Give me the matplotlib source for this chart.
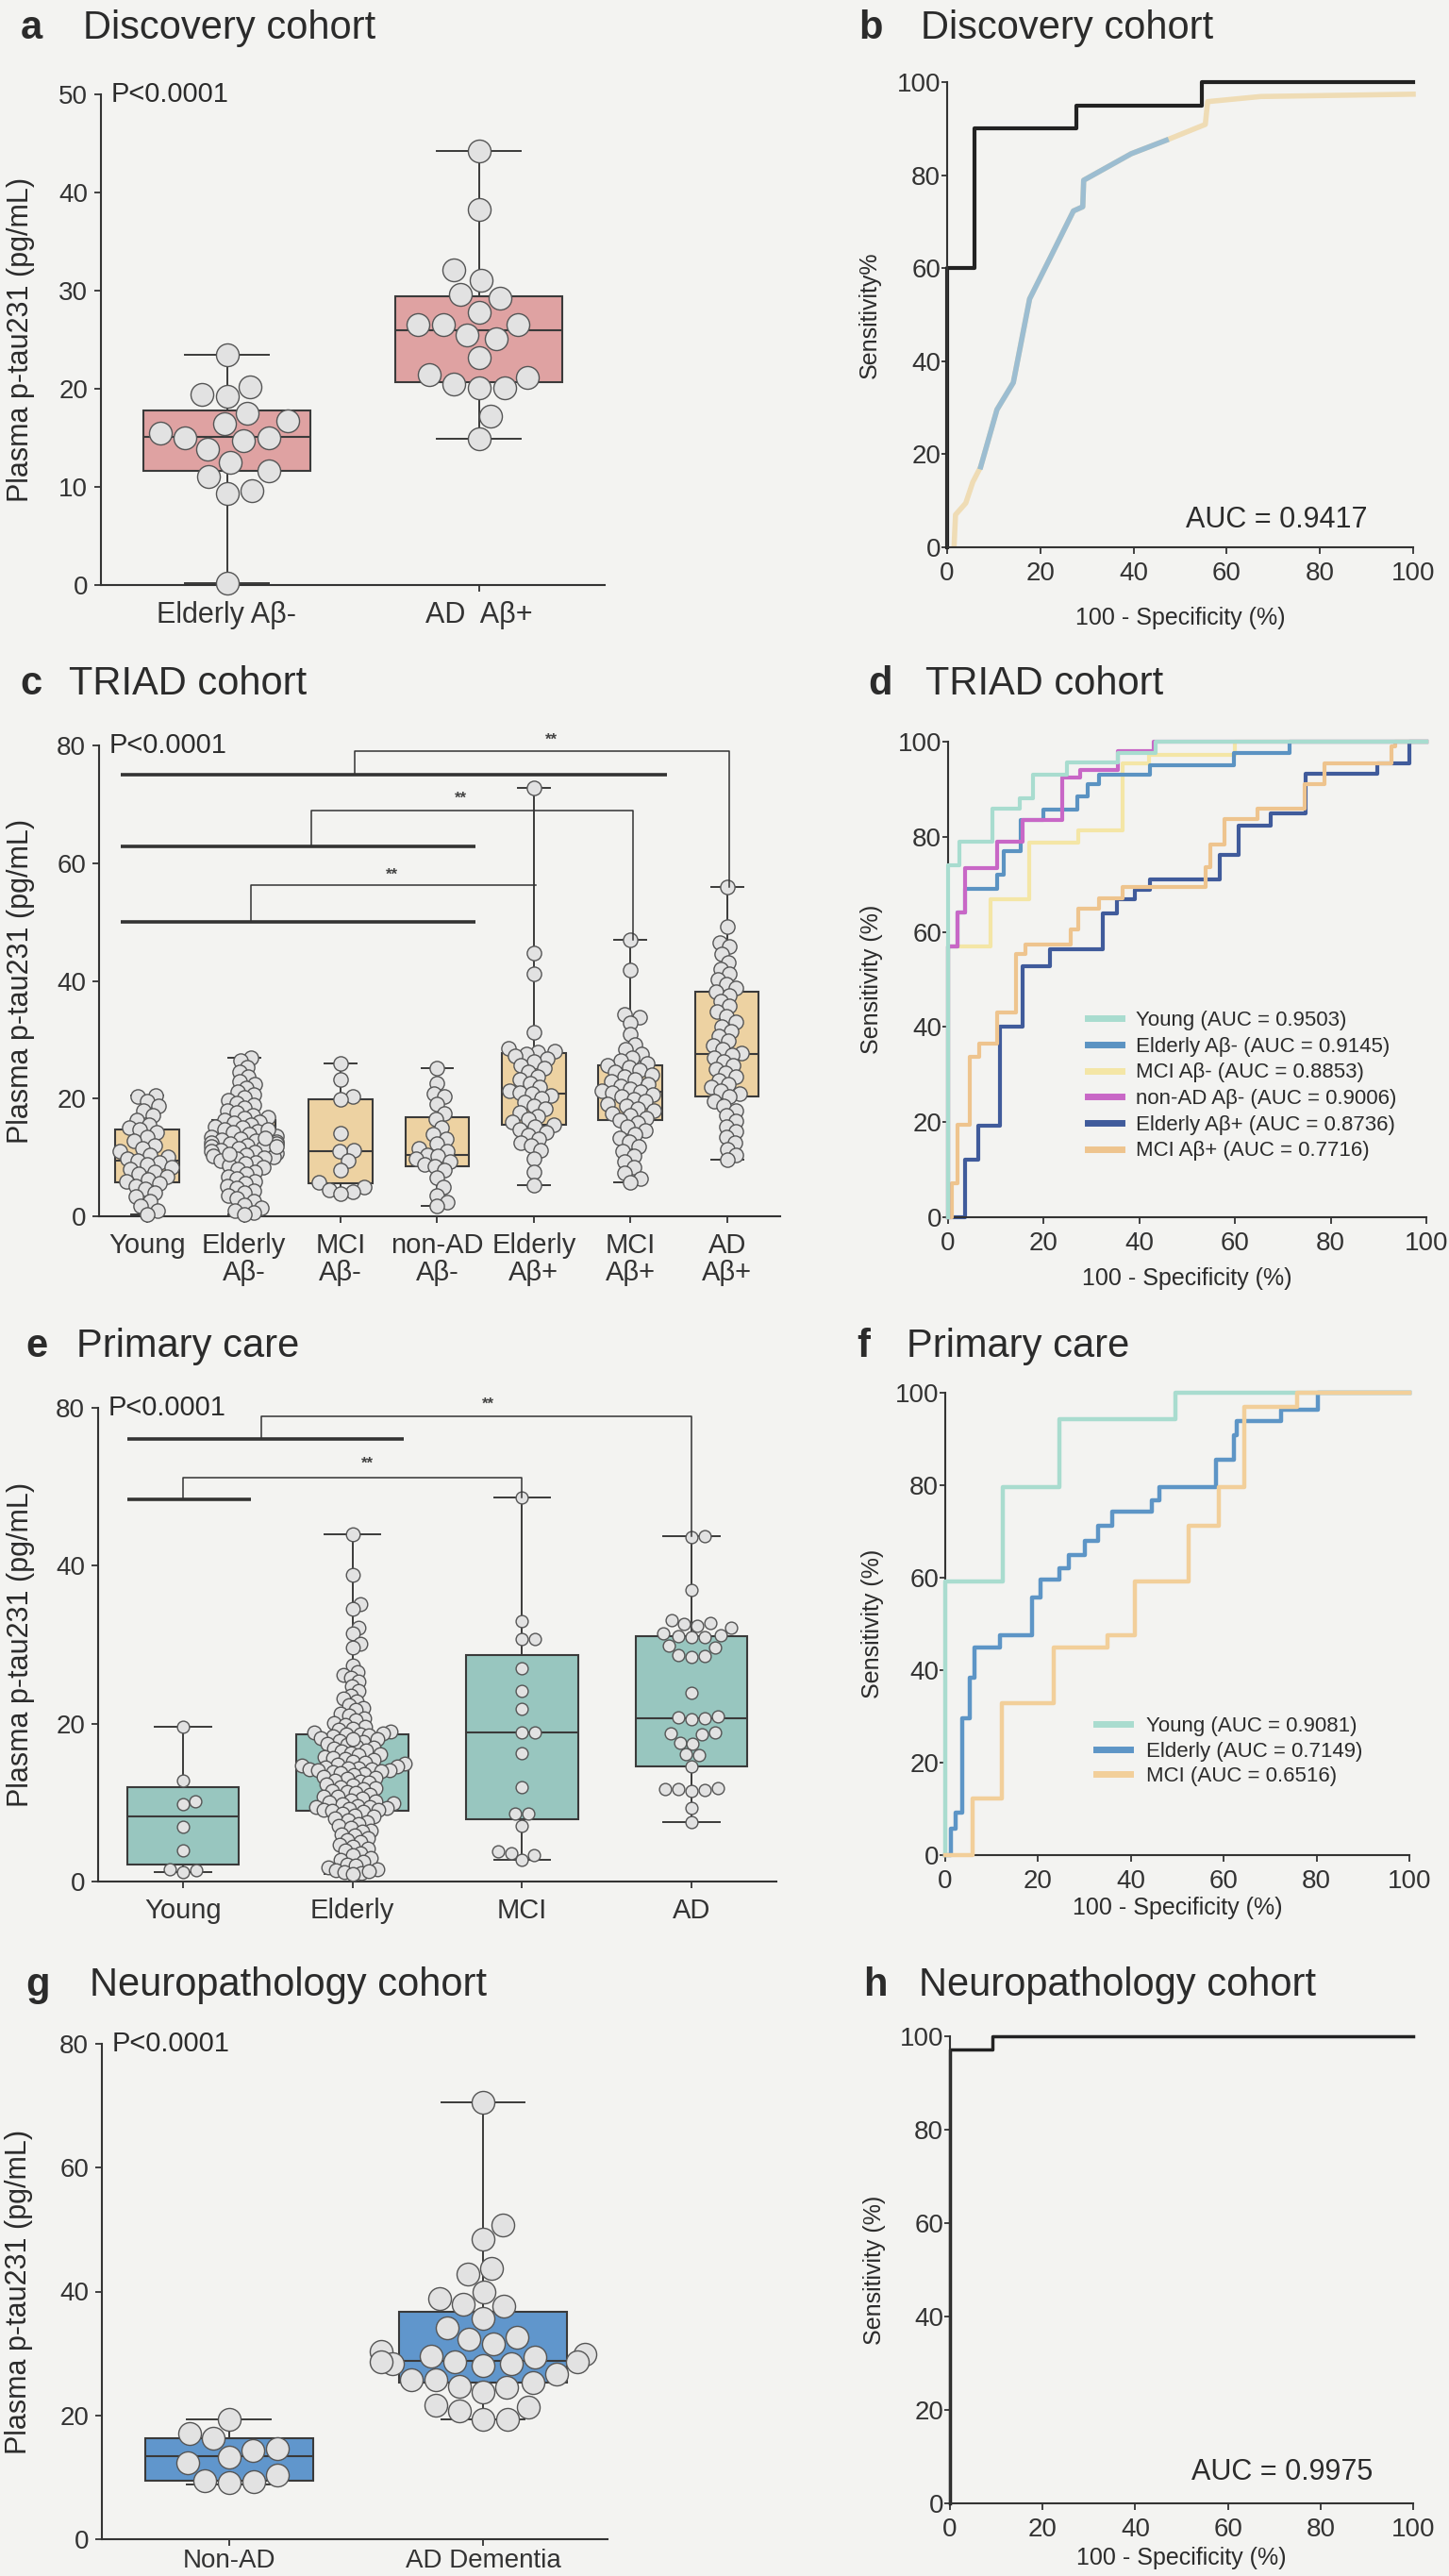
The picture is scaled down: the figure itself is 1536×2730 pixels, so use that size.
import numpy as np
import matplotlib
matplotlib.use("Agg")
import matplotlib.pyplot as plt

plt.rcParams['font.family'] = ['Liberation Sans', 'DejaVu Sans']

W, H = 1536, 2730
BG = '#f3f3f1'
TXT = '#2b2b2b'
EDGE = '#3a3a3a'
PT_FACE = '#e2e2e2'
PT_EDGE = '#555555'

# ---------------- data: panel a (Discovery cohort) ----------------
a_labels = ['Elderly Aβ-', 'AD  Aβ+']
a_elderly = [23.5, 20.2, 19.4, 19.2, 17.5, 16.7, 16.4, 15.5, 15.0, 14.7, 15.0,
             13.8, 12.5, 11.6, 11.1, 9.6, 9.3, 0.2]
a_ad = [44.2, 38.3, 32.1, 31.1, 29.6, 29.2, 27.8, 26.5, 26.5, 26.5, 25.1, 25.5,
        23.2, 21.4, 21.2, 20.1, 20.5, 20.1, 17.2, 14.9]
a_lo = [0.2, 14.9]
a_q1 = [11.6, 20.7]
a_med = [15.1, 26.0]
a_q3 = [17.8, 29.4]
a_hi = [23.5, 44.2]

# ---------------- data: panel b (Discovery ROC) ----------------
b_step_x = [0, 0, 5.8, 27.8, 54.6, 100]
b_step_y = [0, 60, 90, 95, 100, 100]
b_curve_x = [1.5, 1.8, 4.0, 5.5, 7.2, 10.7, 14.2, 17.7, 22, 27.1, 29.1, 29.3,
             39.5, 47, 55.4, 55.9, 67.3, 100]
b_curve_y = [0.5, 7, 9.5, 14, 17.3, 29.6, 35.4, 53.4, 62, 72.3, 73.2, 78.9,
             84.6, 87.5, 90.9, 95.8, 96.9, 97.4]
b_auc = 'AUC = 0.9417'

# ---------------- data: panel c (TRIAD cohort) ----------------
c_labels = ['Young', 'Elderly\nAβ-', 'MCI\nAβ-', 'non-AD\nAβ-', 'Elderly\nAβ+',
            'MCI\nAβ+', 'AD\nAβ+']
c_young = [20.6, 20.3, 19.6, 18.7, 17.9, 17.2, 16.4, 15.6, 15.0, 14.7, 14.2, 13.5,
           12.8, 12.1, 11.6, 11.0, 10.5, 10.1, 9.8, 9.5, 9.2, 8.8, 8.4, 8.0, 7.6,
           7.2, 6.8, 6.3, 5.9, 5.6, 5.2, 4.6, 4.0, 3.3, 2.5, 1.7, 1.0, 0.4]
c_elderly_neg = [26.9, 26.5, 25.4, 24.6, 23.8, 23.0, 22.4, 21.8, 21.2, 20.7, 20.2,
                 19.7, 19.3, 18.9, 18.4, 18.0, 17.6, 17.2, 16.9, 16.6, 16.3, 16.1,
                 15.8, 15.5, 15.2, 15.0, 14.7, 14.4, 14.2, 13.9, 13.7, 13.5, 13.2,
                 13.0, 12.8, 12.6, 12.5, 12.4, 12.3, 12.1, 11.9, 11.7, 11.5, 11.3,
                 11.1, 10.9, 10.7, 10.5, 10.3, 10.1, 9.9, 9.7, 9.5, 9.2, 8.9, 8.6,
                 8.3, 8.0, 7.6, 7.2, 6.8, 6.4, 6.0, 5.6, 5.2, 4.8, 4.4, 4.0, 3.5,
                 3.0, 2.5, 2.0, 1.5, 1.0, 0.6, 0.4, 14.8, 13.3, 11.8, 10.6]
c_mci_neg = [25.9, 23.3, 20.3, 19.8, 14.1, 11.3, 11.0, 9.5, 7.8, 5.8, 5.0, 4.5,
             4.2, 3.9]
c_nonad_neg = [25.1, 22.6, 20.8, 20.3, 19.0, 17.5, 16.5, 15.0, 14.0, 13.2, 12.4,
               11.6, 11.0, 10.5, 10.2, 9.8, 9.3, 8.8, 8.5, 7.8, 6.5, 5.0, 3.6,
               2.4, 1.8]
c_elderly_pos = [72.8, 44.7, 41.2, 31.3, 28.6, 28.1, 27.9, 27.6, 27.2, 26.8, 26.3,
                 25.7, 25.1, 24.5, 23.8, 23.2, 22.6, 22.0, 21.4, 21.0, 20.8, 20.5,
                 20.0, 19.4, 18.8, 18.2, 17.6, 17.0, 16.5, 16.0, 15.6, 15.2, 14.8,
                 14.3, 13.8, 13.2, 12.5, 12.0, 11.2, 9.8, 7.5, 5.3]
c_mci_pos = [46.9, 41.8, 34.3, 33.8, 32.9, 31.0, 29.2, 28.4, 27.6, 27.0, 26.4,
             26.0, 25.6, 25.3, 24.9, 24.5, 24.1, 23.7, 23.3, 22.9, 22.5, 22.1,
             21.7, 21.4, 21.2, 21.0, 20.7, 20.3, 19.9, 19.5, 19.1, 18.7, 18.3,
             17.9, 17.5, 17.1, 16.7, 16.3, 15.8, 15.2, 14.6, 14.0, 13.3, 12.6,
             11.8, 11.0, 10.2, 9.3, 8.3, 7.3, 6.4, 5.8]
c_ad_pos = [56.0, 49.2, 46.5, 45.8, 44.6, 43.2, 42.0, 41.2, 40.3, 39.5, 38.8,
            38.2, 37.5, 36.6, 35.7, 34.8, 34.0, 33.1, 32.3, 31.5, 30.6, 29.8,
            29.0, 28.3, 27.8, 27.4, 26.9, 26.3, 25.6, 25.0, 24.4, 23.8, 23.1,
            22.5, 21.9, 21.3, 20.8, 20.3, 19.6, 18.8, 18.0, 17.1, 16.2, 15.3,
            14.4, 13.5, 12.5, 11.4, 10.4, 9.6]
c_lo = [0.4, 0.4, 3.9, 1.8, 5.3, 5.8, 9.6]
c_q1 = [5.7, 9.75, 5.65, 8.5, 15.6, 16.3, 20.3]
c_med = [9.5, 12.4, 11.0, 10.5, 20.8, 21.2, 27.6]
c_q3 = [14.8, 16.4, 19.8, 16.8, 27.8, 25.6, 38.1]
c_hi = [20.6, 26.9, 25.9, 25.1, 72.8, 46.9, 56.0]
# comparison brackets: thick bar (x0, x1, y), bracket (x left, x right, top, drop-to), stars (x, y)
c_bar_x0 = [-0.28, -0.28, -0.28]
c_bar_x1 = [5.38, 3.40, 3.40]
c_bar_y = [75.1, 62.9, 50.0]
c_brk_xl = [2.15, 1.70, 1.07]
c_brk_xr = [6.02, 5.03, 4.02]
c_brk_top = [79.0, 69.0, 56.2]
c_brk_end = [56.0, 46.9, 56.2]
c_star_x = [4.18, 3.24, 2.53]
c_star_y = [80.9, 71.0, 58.0]

# ---------------- data: panel d (TRIAD ROC) ----------------
d_names = ['Young (AUC = 0.9503)', 'Elderly Aβ- (AUC = 0.9145)',
           'MCI Aβ- (AUC = 0.8853)', 'non-AD Aβ- (AUC = 0.9006)',
           'Elderly Aβ+ (AUC = 0.8736)', 'MCI Aβ+ (AUC = 0.7716)']
d_colors = ['#a8dccf', '#5b93c2', '#f4e6a6', '#c867c6', '#405b9b', '#eec48e']
d_young_x = [0, 0, 2.3, 9.3, 15, 17.8, 24.8, 35.5, 43.3, 100]
d_young_y = [0, 74, 79, 86, 88, 93, 95.6, 97.6, 100, 100]
d_eld_neg_x = [0, 0, 2.0, 3.5, 10.3, 11.7, 15.1, 20, 27, 29.2, 31.6, 42.3, 59.7, 71.4, 100]
d_eld_neg_y = [0, 57, 64, 69, 72, 77, 83.6, 85.8, 88.5, 91, 93, 95, 97.6, 100, 100]
d_mci_neg_x = [0, 0, 8.8, 17, 27.3, 36.5, 42, 60, 100]
d_mci_neg_y = [0, 57, 66.8, 78.8, 81.3, 95.5, 97.2, 100, 100]
d_nonad_x = [0, 0, 2, 3.5, 10.3, 15.6, 23.8, 27.7, 35.5, 43, 100]
d_nonad_y = [0, 57, 64, 73.5, 79, 83.6, 92.4, 94, 98, 100, 100]
d_eld_pos_x = [0, 3.5, 6.4, 10.8, 15.6, 21.4, 32.4, 35.3, 39, 42.3, 56.8, 60.7,
               67.5, 74.8, 89.8, 96.4, 100]
d_eld_pos_y = [0, 12.2, 19.2, 40, 52.8, 56.3, 63.8, 66.8, 68.8, 71, 76.2, 82.3,
               85, 93.3, 95.5, 100, 100]
d_mci_pos_x = [0, 0.8, 2, 4.5, 6.5, 10.3, 14.2, 16.1, 25.6, 27.3, 31.6, 36.5,
               53.9, 54.9, 57.8, 64.6, 74.5, 78.7, 92.7, 93.5, 100]
d_mci_pos_y = [0, 7.2, 19.4, 33.8, 36.5, 43, 55.4, 57.4, 60.5, 64.9, 67, 69.4,
               73.6, 78.4, 83.7, 86, 91, 95.5, 99, 100, 100]

# ---------------- data: panel e (Primary care) ----------------
e_labels = ['Young', 'Elderly', 'MCI', 'AD']
e_ytick_labels = ['0', '20', '40', '80']
e_young = [19.6, 12.8, 10.2, 9.8, 6.9, 4.0, 1.5, 1.2, 1.4]
e_elderly = [44.0, 38.8, 35.1, 34.6, 32.2, 31.4, 30.1, 29.6, 27.4, 26.5, 26.2,
             25.8, 25.3, 24.7, 24.1, 23.6, 23.2, 22.8, 22.4, 22.0, 21.7, 21.3,
             21.0, 20.7, 20.4, 20.1, 19.9, 19.6, 19.4, 19.2, 19.0, 18.9, 18.8,
             18.7, 18.7, 18.5, 18.4, 18.2, 18.0, 17.8, 17.7, 17.5, 17.3, 17.1,
             17.0, 16.8, 16.6, 16.5, 16.3, 16.1, 16.0, 15.8, 15.7, 15.5, 15.4,
             15.2, 15.1, 14.9, 14.8, 14.7, 14.6, 14.5, 14.4, 14.3, 14.2, 14.2,
             14.1, 14.1, 14.0, 18.1, 13.9, 13.8, 13.6, 13.5, 13.3, 13.2, 13.0,
             12.8, 12.7, 12.5, 12.3, 12.2, 12.0, 11.8, 11.7, 11.5, 11.3, 11.2,
             11.0, 10.8, 10.7, 10.5, 10.3, 10.2, 10.0, 9.9, 9.8, 9.6, 9.5, 9.4,
             9.3, 9.2, 9.1, 9.1, 9.0, 8.8, 8.6, 8.4, 8.2, 8.0, 7.8, 7.5, 7.3,
             7.0, 6.8, 6.5, 6.3, 6.0, 5.8, 5.5, 5.2, 5.0, 4.7, 4.4, 4.2, 3.9,
             3.6, 3.3, 3.0, 2.8, 2.5, 2.2, 2.0, 1.8, 1.6, 1.4, 1.2, 1.1, 1.0, 1.3]
e_mci = [48.6, 33.0, 30.7, 30.7, 27.0, 24.1, 21.9, 18.9, 18.9, 16.2, 12.0, 8.6,
         8.6, 7.1, 3.6, 3.4, 3.8, 2.7]
e_ad = [43.8, 43.6, 36.9, 33.1, 32.8, 32.6, 32.4, 32.2, 31.4, 31.2, 31.0, 31.1,
        30.9, 29.9, 29.7, 28.6, 28.5, 28.7, 23.9, 20.9, 20.7, 20.6, 20.8, 18.8,
        18.9, 18.7, 17.6, 17.5, 16.0, 16.1, 14.6, 11.7, 11.6, 11.8, 11.7, 11.5,
        9.3, 7.5]
e_lo = [1.2, 1.0, 2.7, 7.5]
e_q1 = [2.2, 9.0, 7.9, 14.6]
e_med = [8.3, 14.1, 18.9, 20.7]
e_q3 = [12.0, 18.6, 28.7, 31.1]
e_hi = [19.6, 44.0, 48.6, 43.8]
e_bar_x0 = [-0.33, -0.33]
e_bar_x1 = [1.30, 0.40]
e_bar_y = [56.1, 48.4]
e_brk_xl = [0.46, 0.0]
e_brk_xr = [3.0, 2.0]
e_brk_top = [58.9, 51.1]
e_brk_end = [43.8, 48.6]
e_star_x = [1.80, 1.09]
e_star_y = [60.5, 52.9]

# ---------------- data: panel f (Primary care ROC) ----------------
f_names = ['Young (AUC = 0.9081)', 'Elderly (AUC = 0.7149)', 'MCI (AUC = 0.6516)']
f_colors = ['#a9dccf', '#5d95c6', '#f2cf9a']
f_young_x = [0, 0, 12.4, 24.6, 49.5, 100]
f_young_y = [0, 59.2, 79.6, 94.2, 100, 100]
f_eld_x = [0, 1.2, 2.2, 3.7, 5.2, 6.2, 11.8, 18.6, 20.6, 24.6, 26.6, 30, 33, 36,
           44.5, 46.2, 58.4, 62.1, 62.9, 72.3, 80.3, 100]
f_eld_y = [0, 5.8, 9.2, 29.6, 38.3, 45, 47.5, 55.8, 59.6, 62, 65, 67.9, 71.3,
           74.2, 76.7, 79.6, 85.6, 90.8, 93.8, 96.3, 100, 100]
f_mci_x = [0, 5.9, 12.1, 23.3, 35, 40.8, 52.4, 58.9, 64.4, 75.8, 100]
f_mci_y = [0, 12.3, 32.9, 45, 47.5, 59.2, 71.3, 79.6, 97, 100, 100]

# ---------------- data: panel g (Neuropathology cohort) ----------------
g_labels = ['Non-AD', 'AD Dementia']
g_nonad = [19.4, 17.1, 16.3, 14.7, 14.3, 13.2, 12.4, 10.3, 9.5, 9.3, 9.1]
g_ad = [70.5, 50.8, 48.5, 43.8, 42.8, 39.9, 37.9, 38.9, 37.6, 35.6, 34.2, 32.3,
        32.6, 31.6, 30.4, 29.4, 29.9, 29.6, 28.6, 28.6, 28.4, 28.4, 28.6, 28.0,
        26.6, 25.8, 25.3, 25.7, 24.7, 24.5, 23.7, 21.7, 21.4, 20.7, 19.4, 19.4]
g_lo = [8.8, 19.4]
g_q1 = [9.5, 25.3]
g_med = [13.4, 28.8]
g_q3 = [16.3, 36.8]
g_hi = [19.4, 70.5]

# ---------------- data: panel h (Neuropathology ROC) ----------------
h_x = [0, 0, 9.2, 100]
h_y = [0, 97.1, 100, 100]
h_auc = 'AUC = 0.9975'

ROC_TICKS = [0, 20, 40, 60, 80, 100]
P_TEXT = 'P<0.0001'
BOX_YLABEL = 'Plasma p-tau231 (pg/mL)'
ROC_XLABEL = '100 - Specificity (%)'


fig = plt.figure(figsize=(W / 100, H / 100), dpi=100, facecolor=BG)


def add_axes_px(rect):
    left, top, right, bottom = rect
    ax = fig.add_axes([left / W, 1 - bottom / H, (right - left) / W, (bottom - top) / H])
    ax.patch.set_visible(False)
    for side in ('top', 'right'):
        ax.spines[side].set_visible(False)
    for side in ('left', 'bottom'):
        ax.spines[side].set_linewidth(1.5)
        ax.spines[side].set_color('#333333')
    return ax


def panel_title(letter, lx, text, tx, base_y):
    fig.text(lx / W, 1 - base_y / H, letter, fontsize=30, fontweight='bold',
             ha='left', va='baseline', color=TXT)
    fig.text(tx / W, 1 - base_y / H, text, fontsize=30,
             ha='left', va='baseline', color=TXT)


def set_labels(ax, rect, ylabel, ylab_x, yfs, xlabel=None, xlab_y=None, xfs=18):
    left, top, right, bottom = rect
    ax.set_ylabel(ylabel, fontsize=yfs, color=TXT)
    ax.yaxis.label.set_va('center')
    ax.yaxis.set_label_coords((ylab_x - left) / (right - left), 0.5)
    if xlabel:
        ax.set_xlabel(xlabel, fontsize=xfs, color=TXT)
        ax.xaxis.label.set_va('center')
        ax.xaxis.set_label_coords(0.5, (bottom - xlab_y) / (bottom - top))


def swarm(values, d_px, xk, yk, max_off):
    """Beeswarm offsets (data units) so markers of d_px do not overlap."""
    vals = np.asarray(values, float)
    order = np.argsort(vals)
    px, py = [], []
    offs = np.zeros(len(vals))
    for i in order:
        y = vals[i] * yk
        blocked = []
        for ox, oy in zip(px, py):
            dy = abs(oy - y)
            if dy < d_px:
                w = np.sqrt(d_px ** 2 - dy ** 2)
                blocked.append((ox - w, ox + w))
        cands = [0.0] + [b for iv in blocked for b in iv]
        cands.sort(key=lambda c: (abs(c), -c))
        chosen = 0.0
        for c in cands:
            if all(not (lo + 1e-6 < c < hi - 1e-6) for lo, hi in blocked):
                chosen = c
                break
        lim = max_off * xk
        chosen = max(-lim, min(lim, chosen))
        px.append(chosen)
        py.append(y)
        offs[i] = chosen / xk
    return offs


def box_panel(rect, groups, lo, q1, med, q3, hi, color, xlim, ylim, yticks,
              ytlabels, xlabels, ms, coll, max_off, label_fs=21, xpad=7):
    ax = add_axes_px(rect)
    left, top, right, bottom = rect
    xk = (right - left) / (xlim[1] - xlim[0])
    yk = (bottom - top) / (ylim[1] - ylim[0])
    stats = [dict(whislo=lo[i], q1=q1[i], med=med[i], q3=q3[i], whishi=hi[i],
                  fliers=[]) for i in range(len(groups))]
    ax.bxp(stats, positions=range(len(groups)), widths=0.66, capwidths=0.33,
           patch_artist=True, showfliers=False,
           boxprops=dict(facecolor=color, edgecolor=EDGE, linewidth=1.5),
           medianprops=dict(color=EDGE, linewidth=1.5),
           whiskerprops=dict(color=EDGE, linewidth=1.4),
           capprops=dict(color=EDGE, linewidth=1.4), zorder=2)
    for i, vals in enumerate(groups):
        offs = swarm(vals, coll[i], xk, yk, max_off[i])
        ax.scatter(i + offs, vals, s=ms[i], facecolor=PT_FACE, edgecolor=PT_EDGE,
                   linewidth=1.0, zorder=3, clip_on=False)
    ax.set_xlim(*xlim)
    ax.set_ylim(*ylim)
    ax.set_yticks(yticks)
    ax.set_yticklabels(ytlabels)
    ax.set_xticks(range(len(groups)))
    ax.set_xticklabels(xlabels, fontsize=label_fs, linespacing=1.05)
    ax.tick_params(axis='y', labelsize=20, length=5, width=1.3, pad=5,
                   colors='#333333')
    ax.tick_params(axis='x', length=5, width=1.3, pad=xpad, colors='#333333')
    ax.annotate(P_TEXT, xy=(0, 1), xycoords='axes fraction', xytext=(8, 0),
                textcoords='offset points', fontsize=21, va='center', ha='left',
                color=TXT)
    return ax


def brackets(ax, bx0, bx1, by, xl, xr, top, end, sx, sy):
    for k in range(len(by)):
        ax.plot([bx0[k], bx1[k]], [by[k], by[k]], color='#333333', lw=2.6,
                solid_capstyle='butt', clip_on=False, zorder=4)
        ax.plot([xl[k], xl[k], xr[k], xr[k]], [by[k], top[k], top[k], end[k]],
                color='#333333', lw=1.1, clip_on=False, zorder=4)
        ax.text(sx[k], sy[k], '**', fontsize=12, fontweight='bold', ha='center',
                va='center', color='#444444')


def roc_axes(rect):
    ax = add_axes_px(rect)
    ax.set_xlim(0, 100)
    ax.set_ylim(0, 100)
    ax.set_xticks(ROC_TICKS)
    ax.set_yticks(ROC_TICKS)
    ax.tick_params(axis='y', labelsize=20, length=4, width=1.3, pad=1,
                   colors='#333333')
    ax.tick_params(axis='x', labelsize=20, length=5, width=1.3, pad=6,
                   colors='#333333')
    return ax


# ---------------- panel a ----------------
rect_a = (107, 100, 641, 620)
ax_a = box_panel(rect_a, [a_elderly, a_ad], a_lo, a_q1, a_med, a_q3, a_hi,
                 '#dfa2a2', (-0.5, 1.5), (0, 50), [0, 10, 20, 30, 40, 50],
                 ['0', '10', '20', '30', '40', '50'], a_labels,
                 ms=[300, 300], coll=[27, 27], max_off=[0.4, 0.4], label_fs=22)
set_labels(ax_a, rect_a, BOX_YLABEL, 22, 22)
panel_title('a', 22, 'Discovery cohort', 88, 41)

# ---------------- panel b ----------------
rect_b = (1004, 87, 1498, 580)
ax_b = roc_axes(rect_b)
ax_b.plot(b_curve_x, b_curve_y, color='#efdcb5', lw=4, clip_on=False,
          solid_joinstyle='round')
ax_b.plot(b_curve_x[4:14], b_curve_y[4:14], color='#9cbdd1', lw=4,
          clip_on=False, solid_joinstyle='round')
ax_b.step(b_step_x, b_step_y, where='post', color='#222222', lw=3,
          clip_on=False)
ax_b.text(70.7, 5.9, b_auc, fontsize=22, ha='center', va='center', color=TXT)
set_labels(ax_b, rect_b, 'Sensitivity%', 922, 18, ROC_XLABEL, 655)
panel_title('b', 910, 'Discovery cohort', 976, 41)

# ---------------- panel c ----------------
rect_c = (105, 790, 827, 1289)
c_groups = [c_young, c_elderly_neg, c_mci_neg, c_nonad_neg, c_elderly_pos,
            c_mci_pos, c_ad_pos]
ax_c = box_panel(rect_c, c_groups, c_lo, c_q1, c_med, c_q3, c_hi, '#edd2a2',
                 (-0.5, 6.55), (0, 80), [0, 20, 40, 60, 80],
                 ['0', '20', '40', '60', '80'], c_labels,
                 ms=[120] * 7, coll=[11, 10, 13, 11, 11, 11, 11],
                 max_off=[0.32, 0.34, 0.3, 0.32, 0.34, 0.34, 0.34])
brackets(ax_c, c_bar_x0, c_bar_x1, c_bar_y, c_brk_xl, c_brk_xr, c_brk_top,
         c_brk_end, c_star_x, c_star_y)
set_labels(ax_c, rect_c, BOX_YLABEL, 22, 22)
panel_title('c', 21, 'TRIAD cohort', 73, 736)

# ---------------- panel d ----------------
rect_d = (1005, 786, 1512, 1290)
ax_d = roc_axes(rect_d)
d_curves = [(d_young_x, d_young_y), (d_eld_neg_x, d_eld_neg_y),
            (d_mci_neg_x, d_mci_neg_y), (d_nonad_x, d_nonad_y),
            (d_eld_pos_x, d_eld_pos_y), (d_mci_pos_x, d_mci_pos_y)]
d_z = [6, 4, 3, 5, 2, 3]
d_lines = []
for (cx, cy), col, z in zip(d_curves, d_colors, d_z):
    ln, = ax_d.step(cx, cy, where='post', color=col, lw=3, clip_on=False, zorder=z)
    d_lines.append(ln)
leg_d = ax_d.legend(d_lines, d_names, loc='upper left',
                    bbox_to_anchor=(1153 / W, 1 - 1071 / H),
                    bbox_transform=fig.transFigure, frameon=False, fontsize=16,
                    handlelength=1.6, handletextpad=0.7, labelspacing=0.3,
                    borderpad=0, borderaxespad=0)
for t in leg_d.get_texts():
    t.set_color(TXT)
for ln in leg_d.get_lines():
    ln.set_linewidth(5)
set_labels(ax_d, rect_d, 'Sensitivity (%)', 924, 18, ROC_XLABEL, 1355)
panel_title('d', 920, 'TRIAD cohort', 981, 736)

# ---------------- panel e ----------------
rect_e = (104, 1492, 823, 1994)
ax_e = box_panel(rect_e, [e_young, e_elderly, e_mci, e_ad], e_lo, e_q1, e_med,
                 e_q3, e_hi, '#98c6bf', (-0.5, 3.5), (0, 60), [0, 20, 40, 60],
                 e_ytick_labels, e_labels,
                 ms=[85, 110, 85, 85], coll=[14, 9, 14, 14],
                 max_off=[0.3, 0.36, 0.3, 0.4])
brackets(ax_e, e_bar_x0, e_bar_x1, e_bar_y, e_brk_xl, e_brk_xr, e_brk_top,
         e_brk_end, e_star_x, e_star_y)
set_labels(ax_e, rect_e, BOX_YLABEL, 22, 22)
panel_title('e', 27, 'Primary care', 81, 1438)

# ---------------- panel f ----------------
rect_f = (1002, 1476, 1494, 1966)
ax_f = roc_axes(rect_f)
f_curves = [(f_young_x, f_young_y), (f_eld_x, f_eld_y), (f_mci_x, f_mci_y)]
f_lines = []
for (cx, cy), col, z in zip(f_curves, f_colors, [3, 2, 4]):
    ln, = ax_f.step(cx, cy, where='post', color=col, lw=3.2, clip_on=False, zorder=z)
    f_lines.append(ln)
leg_f = ax_f.legend(f_lines, f_names, loc='upper left',
                    bbox_to_anchor=(1162 / W, 1 - 1819 / H),
                    bbox_transform=fig.transFigure, frameon=False, fontsize=16,
                    handlelength=1.6, handletextpad=0.8, labelspacing=0.25,
                    borderpad=0, borderaxespad=0)
for t in leg_f.get_texts():
    t.set_color(TXT)
for ln in leg_f.get_lines():
    ln.set_linewidth(5)
set_labels(ax_f, rect_f, 'Sensitivity (%)', 925, 18, ROC_XLABEL, 2022)
panel_title('f', 908, 'Primary care', 961, 1438)

# ---------------- panel g ----------------
rect_g = (108, 2166, 644, 2691)
ax_g = box_panel(rect_g, [g_nonad, g_ad], g_lo, g_q1, g_med, g_q3, g_hi,
                 '#6096cc', (-0.5, 1.49), (0, 80), [0, 20, 40, 60, 80],
                 ['0', '20', '40', '60', '80'], g_labels,
                 ms=[300, 300], coll=[26, 26], max_off=[0.4, 0.4], label_fs=20,
                 xpad=2)
set_labels(ax_g, rect_g, BOX_YLABEL, 20, 22)
panel_title('g', 27, 'Neuropathology cohort', 95, 2115)

# ---------------- panel h ----------------
rect_h = (1007, 2158, 1498, 2653)
ax_h = roc_axes(rect_h)
ax_h.step(h_x, h_y, where='post', color='#222222', lw=2.5, clip_on=False)
ax_h.text(71.8, 6.6, h_auc, fontsize=22, ha='center', va='center', color=TXT)
set_labels(ax_h, rect_h, 'Sensitivity (%)', 927, 18, ROC_XLABEL, 2711)
panel_title('h', 915, 'Neuropathology cohort', 974, 2115)

fig.savefig('out.png', dpi=100, facecolor=BG)
